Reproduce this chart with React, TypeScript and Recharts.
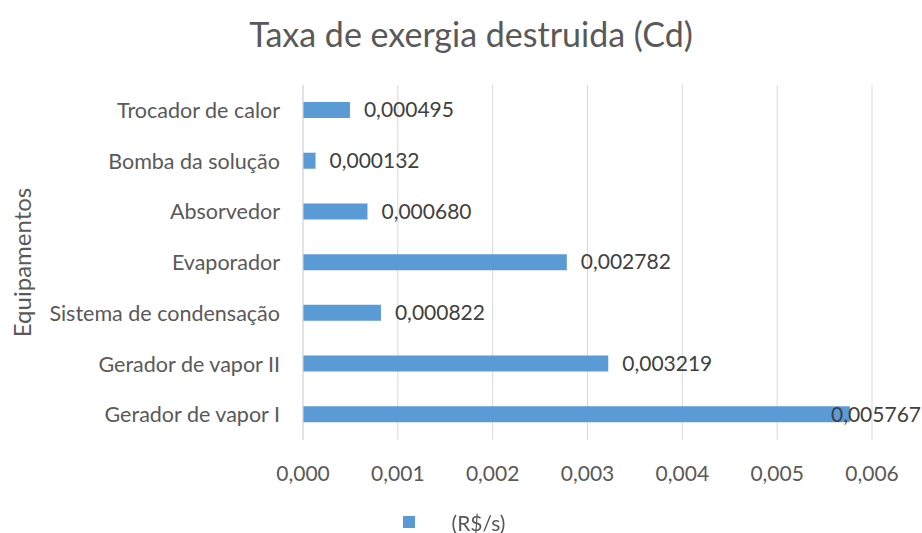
import {
  BarChart,
  Bar,
  XAxis,
  YAxis,
  CartesianGrid,
  Legend,
  LabelList,
} from "recharts";

const categories = [
  "Trocador de calor",
  "Bomba da solução",
  "Absorvedor",
  "Evaporador",
  "Sistema de condensação",
  "Gerador de vapor II",
  "Gerador de vapor I",
];
const values = [0.000495, 0.000132, 0.00068, 0.002782, 0.000822, 0.003219, 0.005767];
const xTicks = [0, 0.001, 0.002, 0.003, 0.004, 0.005, 0.006];
const seriesName = "(R$/s)";
const chartTitle = "Taxa de exergia destruida (Cd)";
const yTitle = "Equipamentos";

const FONT = "Lato, 'Open Sans', sans-serif";
const BLUE = "#5b9bd5";

const data = categories.map((name, i) => ({ name, value: values[i] }));

const fmt = (v: number, d: number) => v.toFixed(d).replace(".", ",");

function ValueLabel(props: any) {
  const { x, y, width, height, value } = props;
  const end = Number(x) + Number(width);
  const fits = end + 14 + 94 <= 921;
  return (
    <text
      x={fits ? end + 14 : 921}
      y={Number(y) + Number(height) / 2}
      dy="0.35em"
      textAnchor={fits ? "start" : "end"}
      fill="#404040"
      fontSize={21}
      fontFamily={FONT}
    >
      {fmt(value, 6)}
    </text>
  );
}

function YTitle(props: any) {
  const { viewBox } = props;
  const cy = viewBox.y + viewBox.height / 2;
  return (
    <text
      x={21}
      y={cy}
      transform={`rotate(-90, 21, ${cy})`}
      textAnchor="middle"
      dominantBaseline="central"
      fill="#595959"
      fontSize={24}
      fontFamily={FONT}
    >
      {yTitle}
    </text>
  );
}

function LegendBox() {
  return (
    <div
      style={{
        height: 22,
        display: "flex",
        alignItems: "center",
        justifyContent: "center",
        paddingLeft: 36,
        fontFamily: FONT,
        fontSize: 21,
        color: "#595959",
      }}
    >
      <span style={{ width: 12, height: 12, background: BLUE, display: "inline-block", marginRight: 37 }} />
      <span>{seriesName}</span>
    </div>
  );
}

export default function App() {
  return (
    <div
      style={{
        position: "fixed",
        left: 0,
        top: 0,
        width: 922,
        height: 533,
        background: "#fff",
        fontFamily: FONT,
      }}
    >
      <div
        style={{
          position: "absolute",
          top: 12,
          left: 20,
          width: 902,
          textAlign: "center",
          fontSize: 34,
          lineHeight: "44px",
          color: "#595959",
        }}
      >
        {chartTitle}
      </div>
      <BarChart
        width={922}
        height={533}
        data={data}
        layout="vertical"
        margin={{ top: 85, right: 50, bottom: 0, left: 0 }}
      >
        <CartesianGrid horizontal={false} stroke="#d9d9d9" />
        <XAxis
          type="number"
          domain={[0, 0.006]}
          ticks={xTicks}
          tickFormatter={(v: number) => fmt(v, 3)}
          axisLine={false}
          tickLine={false}
          tickSize={0}
          tickMargin={26}
          height={71}
          tick={{ fill: "#595959", fontSize: 21, fontFamily: FONT }}
          interval={0}
        />
        <YAxis
          type="category"
          dataKey="name"
          width={303}
          axisLine={{ stroke: "#d9d9d9" }}
          tickLine={false}
          tickSize={0}
          tickMargin={23}
          tick={{ fill: "#595959", fontSize: 21.5, fontFamily: FONT }}
          interval={0}
          label={<YTitle />}
        />
        <Legend verticalAlign="bottom" content={<LegendBox />} />
        <Bar dataKey="value" name={seriesName} fill={BLUE} barSize={16} isAnimationActive={false}>
          <LabelList dataKey="value" content={<ValueLabel />} />
        </Bar>
      </BarChart>
    </div>
  );
}
